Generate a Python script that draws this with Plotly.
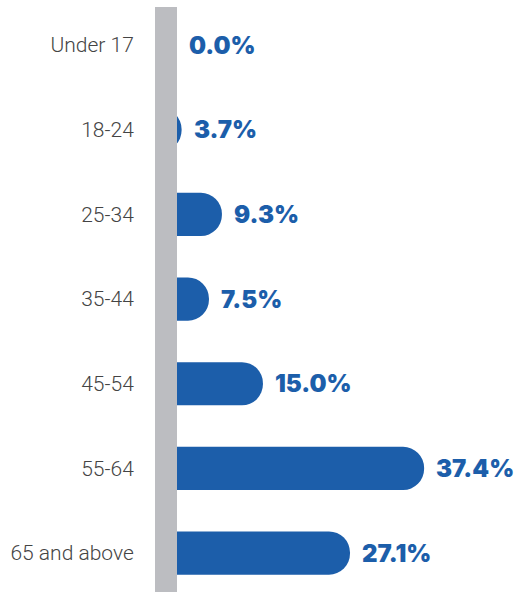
import plotly.graph_objects as go

# Share of respondents by age group (%)
age_groups = ["Under 17", "18-24", "25-34", "35-44", "45-54", "55-64", "65 and above"]
shares = [0.0, 3.7, 9.3, 7.5, 15.0, 37.4, 27.1]

BAR_BLUE = "#1c5eaa"
RAIL_GREY = "#bcbdc1"

W, H = 527, 592
M_LEFT, M_TOP = 155, 7
X_MAX = 51.7                      # x-axis span in percent
px_per_unit = (W - M_LEFT) / X_MAX
RAIL_PX = 22                      # width of the grey rail covering the bar bases

fig = go.Figure()
fig.add_trace(go.Bar(
    y=age_groups,
    x=shares,
    orientation="h",
    marker=dict(color=BAR_BLUE, cornerradius="50%", line=dict(width=0)),
    hoverinfo="skip",
))

# value labels just past each bar end (or past the rail for tiny bars)
for cat, v in zip(age_groups, shares):
    bar_px = v * px_per_unit
    shift = 10 + max(0.0, RAIL_PX - bar_px)
    fig.add_annotation(
        x=v, y=cat, xref="x", yref="y",
        text=f"{v:.1f}%", showarrow=False,
        xanchor="left", yanchor="middle", xshift=shift,
        font=dict(family="Inter", size=24, color=BAR_BLUE, weight=900),
    )

# grey vertical rail at the base of the bars
fig.add_shape(
    type="rect", xref="x", yref="paper",
    xsizemode="pixel", xanchor=0, x0=0, x1=RAIL_PX,
    y0=0, y1=1, fillcolor=RAIL_GREY, line=dict(width=0), layer="above",
)

fig.update_layout(
    width=W, height=H,
    margin=dict(l=M_LEFT, r=0, t=M_TOP, b=0, autoexpand=False),
    paper_bgcolor="white", plot_bgcolor="white",
    showlegend=False,
    bargap=0.49,
    xaxis=dict(range=[0, X_MAX], visible=False, fixedrange=True, automargin=False),
    yaxis=dict(
        type="category",
        range=[6.46, -0.45],
        automargin=False,
        showgrid=False, zeroline=False, showline=False,
        ticks="outside", ticklen=16, tickcolor="rgba(0,0,0,0)",
        tickfont=dict(family="Roboto", size=21, color="#444444", weight=300),
        fixedrange=True,
    ),
)

fig.write_html("out.html")
